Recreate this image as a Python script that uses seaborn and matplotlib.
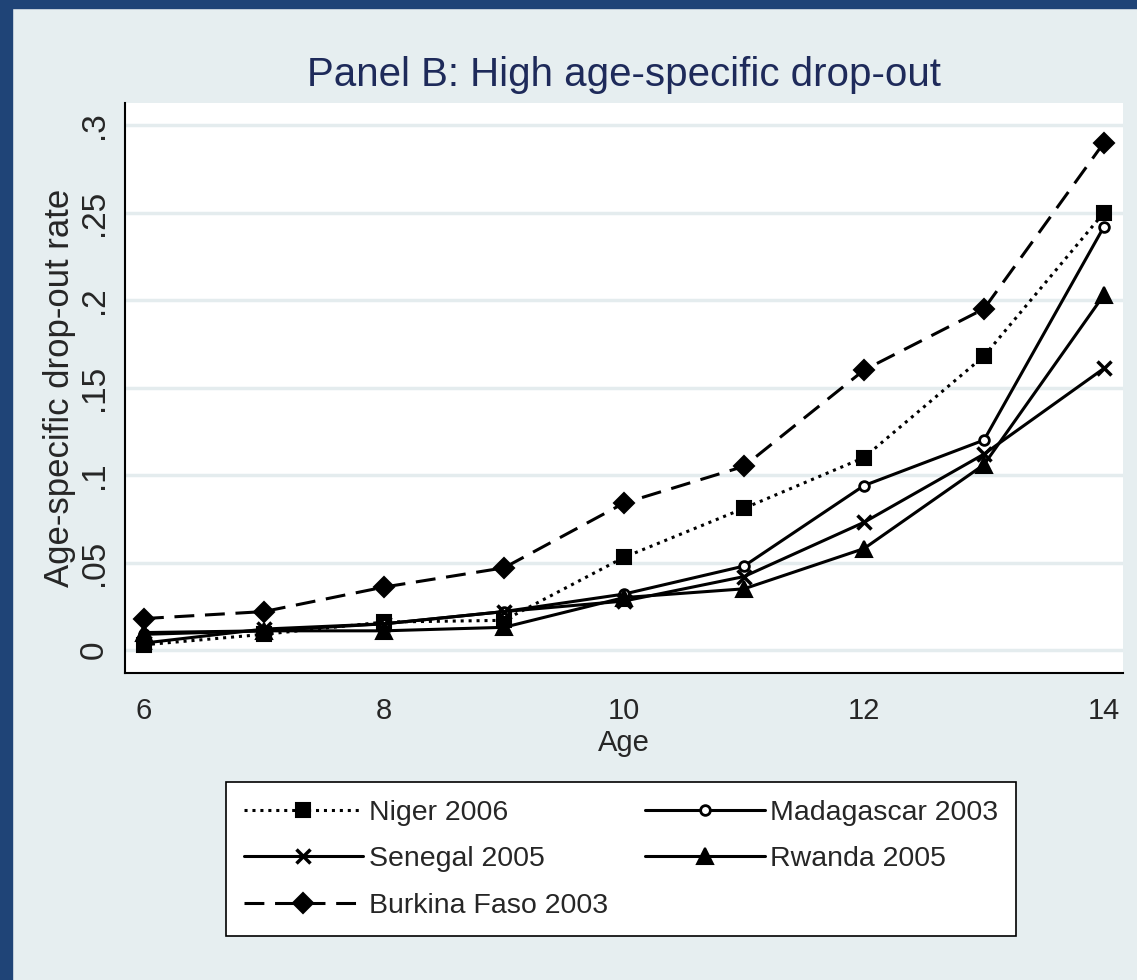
import pandas as pd
import matplotlib
matplotlib.use("Agg")
import matplotlib.pyplot as plt
import seaborn as sns
from matplotlib.patches import Rectangle

ages = [6, 7, 8, 9, 10, 11, 12, 13, 14]
niger = [0.003, 0.009, 0.016, 0.017, 0.053, 0.081, 0.110, 0.168, 0.250]
madagascar = [0.009, 0.011, 0.015, 0.022, 0.032, 0.048, 0.094, 0.120, 0.242]
senegal = [0.004, 0.012, 0.015, 0.022, 0.028, 0.042, 0.073, 0.112, 0.161]
rwanda = [0.010, 0.011, 0.011, 0.013, 0.030, 0.035, 0.058, 0.106, 0.203]
burkina = [0.018, 0.022, 0.036, 0.047, 0.084, 0.105, 0.160, 0.195, 0.290]

countries = ["Niger 2006", "Madagascar 2003", "Senegal 2005", "Rwanda 2005", "Burkina Faso 2003"]
series = [niger, madagascar, senegal, rwanda, burkina]

df = pd.DataFrame({
    "Age": ages * len(countries),
    "rate": sum(series, []),
    "country": [c for c in countries for _ in ages],
})

# marker, marker size, face colour, edge width, line style per country
styles = {
    "Niger 2006": ("s", 10, "black", 1.5, (0, (1, 1.6))),
    "Madagascar 2003": ("o", 7, "white", 2.0, "-"),
    "Senegal 2005": ("x", 10, "black", 2.5, "-"),
    "Rwanda 2005": ("^", 11, "black", 1.5, "-"),
    "Burkina Faso 2003": ("D", 10, "black", 1.5, (0, (6.5, 3.5))),
}

bg = "#e6eef0"
sns.set_style("white")
plt.rcParams["font.family"] = ["Liberation Sans", "DejaVu Sans"]

fig = plt.figure(figsize=(11.37, 9.8), dpi=100, facecolor=bg)
fig.patches.append(Rectangle((0, 0), 12 / 1137, 1, transform=fig.transFigure, color="#1f4477", zorder=5))
fig.patches.append(Rectangle((0, 1 - 8 / 980), 1, 8 / 980, transform=fig.transFigure, color="#1f4477", zorder=5))

ax = fig.add_axes([125 / 1137, 1 - 673 / 980, 998 / 1137, 570 / 980])
ax.set_facecolor("white")

for c in countries:
    m, ms, fc, mew, ls = styles[c]
    sns.lineplot(data=df[df["country"] == c], x="Age", y="rate", ax=ax, label=c,
                 color="black", linewidth=2.2, linestyle=ls, marker=m, markersize=ms,
                 markerfacecolor=fc, markeredgecolor="black", markeredgewidth=mew)

ax.set_xlim(5.842, 14.158)
ax.set_ylim(-0.0131, 0.3126)
ax.set_xticks([6, 8, 10, 12, 14])
ax.set_yticks([0, 0.05, 0.1, 0.15, 0.2, 0.25, 0.3])
ax.set_yticklabels(["0", ".05", ".1", ".15", ".2", ".25", ".3"], rotation=90, va="center", fontsize=24)
ax.grid(axis="y", color="#e4ecee", linewidth=2.5)
ax.set_axisbelow(True)
for s in ["top", "right"]:
    ax.spines[s].set_visible(False)
for s in ["left", "bottom"]:
    ax.spines[s].set_color("black")
    ax.spines[s].set_linewidth(1.5)
ax.tick_params(axis="both", which="major", length=8, width=1.5, color="black", direction="out")
ax.tick_params(axis="x", labelsize=21, pad=9)
ax.tick_params(axis="y", pad=3)
ax.set_xlabel("Age", fontsize=21, labelpad=3)
ax.set_ylabel("Age-specific drop-out rate", fontsize=25, labelpad=2)

fig.text(0.549, 1 - 75 / 980, "Panel B: High age-specific drop-out", ha="center", va="center",
         fontsize=29, color="#1e2a5a")

handles, labels = ax.get_legend_handles_labels()
ax.get_legend().remove()
order = [0, 2, 4, 1, 3]
leg = fig.legend([handles[i] for i in order], [labels[i] for i in order], ncol=2,
                 loc="upper left", bbox_to_anchor=(226 / 1137, 1 - 782 / 980), borderaxespad=0,
                 frameon=True, fontsize=20.5, handlelength=4.2, handletextpad=0.2,
                 columnspacing=1.3, labelspacing=0.72, borderpad=0.62,
                 fancybox=False, edgecolor="black", facecolor="white", framealpha=1)
leg.get_frame().set_linewidth(1.2)

fig.savefig("out.png", dpi=100, facecolor=bg)
